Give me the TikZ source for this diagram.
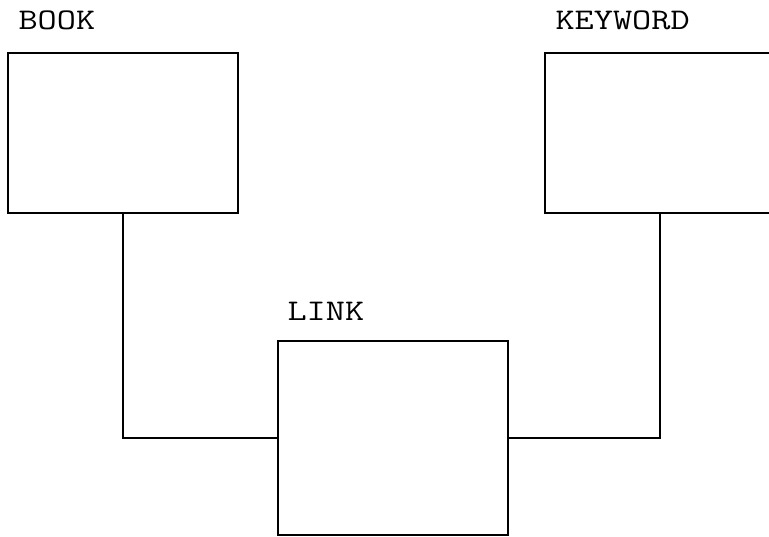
\documentclass[tikz,border=0pt]{standalone}
\usepackage{fontspec}
\newfontfamily\namefont[FakeStretch=1.24]{Latin Modern Mono}
\usetikzlibrary{positioning}

\begin{document}
\begin{tikzpicture}[x=1pt,y=-1pt,line width=1.1pt]

\def\boxw{230}
\def\boxh{160}
\def\linkh{194}

\tikzset{
    relbox/.style={draw,minimum width=\boxw pt,minimum height=\boxh pt,inner sep=0pt},
    relname/.style={anchor=base west,inner sep=0pt,font=\fontsize{30}{36}\namefont}
}

\useasboundingbox (0,0) rectangle (769,536);

%tables
\node[relbox] (book) at (123,133) {};
\node[relbox] (keyword) at (660,133) {};
\node[relbox,minimum height=\linkh pt] (link) at (393,438) {};

%names
\node[relname] (booklbl) at (18,29) {BOOK};
\node[relname] (keywordlbl) at (555,29) {KEYWORD};
\node[relname] (linklbl) at (287,320) {LINK};

%joins
\draw (book.south) |- (link.west);
\draw (keyword.south) |- (link.east);

\end{tikzpicture}
\end{document}
